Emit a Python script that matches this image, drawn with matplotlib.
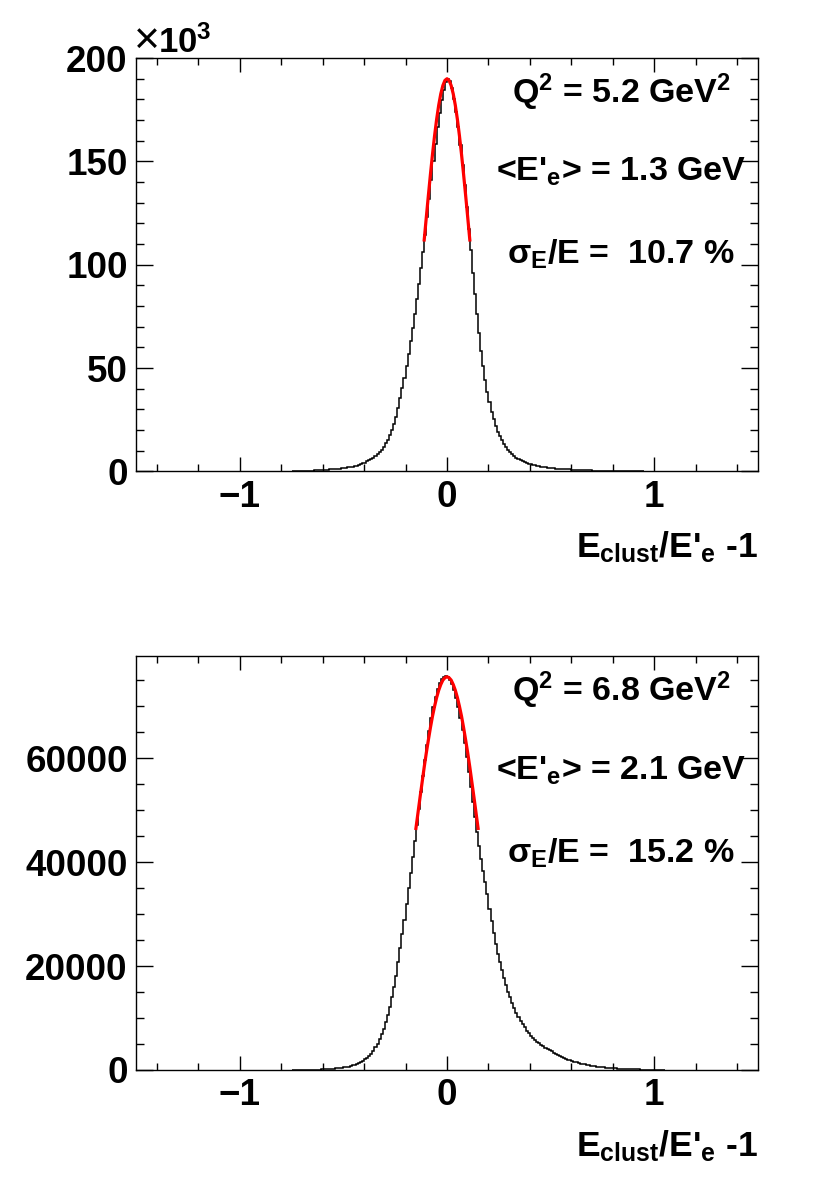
import numpy as np
import matplotlib
matplotlib.use('Agg')
import matplotlib.pyplot as plt
from matplotlib.ticker import MultipleLocator, FixedLocator

plt.rcParams['font.family'] = ['Liberation Sans', 'DejaVu Sans']
plt.rcParams['font.weight'] = 'bold'
plt.rcParams['mathtext.fontset'] = 'custom'
plt.rcParams['mathtext.rm'] = 'Liberation Sans:bold'
plt.rcParams['mathtext.it'] = 'Liberation Sans:bold'
plt.rcParams['mathtext.bf'] = 'Liberation Sans:bold'
plt.rcParams['mathtext.sf'] = 'Liberation Sans:bold'

# histogram: bins of 0.01, counts in thousands, split at x = 0
bin_width = 0.01

# top panel (Q2 = 5.2)
top_left_k = [
    0.02, 0.03, 0.05, 0.08, 0.12, 0.17, 0.22, 0.27, 0.33, 0.39,
    0.45, 0.52, 0.59, 0.66, 0.74, 0.81, 0.88, 0.94, 1.00, 1.06,
    1.13, 1.21, 1.30, 1.41, 1.53, 1.66, 1.81, 1.98, 2.17, 2.38,
    2.62, 2.89, 3.19, 3.53, 3.91, 4.35, 4.85, 5.40, 6.00, 6.70,
    7.45, 8.35, 9.40, 10.6, 12.0, 13.6, 15.4, 17.5, 19.9, 22.8,
    26.5, 30.8, 35.5, 40.2, 45.3, 50.8, 56.8, 63.0, 69.5, 76.3,
    83.5, 90.8, 98.6, 106.4, 114.6, 123.0, 132.0, 141.0, 150.0, 158.5,
    166.5, 173.5, 179.5, 184.5, 188.5,
]
top_right_k = [
    190.0, 189.0, 185.5, 180.0, 174.0, 166.5, 158.0, 148.5, 138.5, 128.0,
    117.5, 107.0, 96.0, 86.0, 76.0, 67.0, 58.5, 51.0, 44.5, 38.5,
    33.5, 29.0, 25.2, 22.0, 19.3, 17.0, 15.0, 13.2, 11.7, 10.4,
    9.3, 8.3, 7.4, 6.7, 6.0, 5.4, 4.9, 4.5, 4.1, 3.8,
    3.5, 3.2, 2.95, 2.7, 2.5, 2.3, 2.15, 2.0, 1.87, 1.75,
    1.64, 1.54, 1.45, 1.37, 1.29, 1.22, 1.15, 1.09, 1.03, 0.97,
    0.91, 0.86, 0.81, 0.76, 0.71, 0.67, 0.63, 0.59, 0.55, 0.51,
    0.48, 0.45, 0.42, 0.39, 0.36, 0.33, 0.31, 0.29, 0.27, 0.25,
    0.23, 0.21, 0.19, 0.17, 0.16, 0.15, 0.13, 0.12, 0.11, 0.10,
    0.09, 0.08, 0.07, 0.06, 0.05,
]
top_fit_x = [-0.11, -0.10, -0.09, -0.08, -0.07, -0.06, -0.05, -0.04, -0.03, -0.02, -0.01, 0.0,
             0.01, 0.02, 0.03, 0.04, 0.05, 0.06, 0.07, 0.08, 0.09, 0.10, 0.11]
top_fit_k = [112.0, 122.8, 133.4, 143.7, 153.4, 162.4, 170.4, 177.2, 182.7, 186.7, 189.2, 190.0,
             189.2, 186.7, 182.7, 177.2, 170.4, 162.4, 153.4, 143.7, 133.4, 122.8, 112.0]
top_labels = ['Q$^{2}$ = 5.2 GeV$^{2}$', "<E'$_{e}$> = 1.3 GeV", 'σ$_{E}$/E =  10.7 %']

# bottom panel (Q2 = 6.8)
bot_left_k = [
    0.00, 0.00, 0.01, 0.01, 0.01, 0.02, 0.02, 0.03, 0.03, 0.04,
    0.05, 0.06, 0.07, 0.08, 0.10, 0.11, 0.13, 0.15, 0.18, 0.21,
    0.25, 0.29, 0.33, 0.38, 0.44, 0.50, 0.57, 0.66, 0.76, 0.88,
    1.02, 1.18, 1.36, 1.57, 1.80, 2.05, 2.35, 2.70, 3.15, 3.70,
    4.35, 5.10, 5.95, 6.90, 7.95, 9.2, 10.6, 12.2, 14.0, 15.9,
    18.0, 20.8, 23.4, 26.1, 28.9, 31.9, 35.0, 38.0, 41.0, 44.0,
    47.1, 50.3, 53.5, 56.6, 59.6, 62.5, 65.2, 67.7, 69.9, 71.8,
    73.3, 74.5, 75.3, 75.7, 75.8,
]
bot_right_k = [
    75.6, 75.1, 74.3, 73.1, 71.6, 69.8, 67.7, 65.4, 62.9, 60.2,
    57.4, 54.5, 51.6, 48.7, 45.9, 43.2, 40.6, 38.4, 36.2, 33.9,
    31.0, 28.6, 26.4, 24.3, 22.4, 20.7, 19.2, 17.8, 16.3, 15.1,
    14.0, 12.9, 11.9, 11.0, 10.2, 9.5, 8.8, 8.2, 7.6, 7.1,
    6.6, 6.2, 5.8, 5.45, 5.2, 4.85, 4.55, 4.3, 4.05, 3.85,
    3.6, 3.35, 3.1, 2.9, 2.7, 2.5, 2.3, 2.15, 2.0, 1.85,
    1.7, 1.58, 1.46, 1.35, 1.25, 1.15, 1.06, 0.98, 0.9, 0.83,
    0.77, 0.71, 0.65, 0.6, 0.55, 0.5, 0.46, 0.42, 0.38, 0.35,
    0.32, 0.29, 0.26, 0.24, 0.22, 0.2, 0.18, 0.16, 0.14, 0.13,
    0.12, 0.11, 0.10, 0.09, 0.08, 0.07, 0.06, 0.05, 0.04, 0.03,
    0.02, 0.02, 0.01, 0.01, 0.0,
]
bot_fit_x = [-0.15, -0.14, -0.13, -0.12, -0.11, -0.10, -0.09, -0.08, -0.07, -0.06, -0.05,
             -0.04, -0.03, -0.02, -0.01, 0.0, 0.01, 0.02, 0.03, 0.04, 0.05, 0.06,
             0.07, 0.08, 0.09, 0.10, 0.11, 0.12, 0.13, 0.14, 0.15]
bot_fit_k = [46.5, 49.5, 52.5, 55.4, 58.3, 61.0, 63.5, 65.9, 68.1, 70.0, 71.7,
             73.1, 74.2, 75.05, 75.5, 75.7, 75.5, 75.05, 74.2, 73.1, 71.7, 70.0,
             68.1, 65.9, 63.5, 61.0, 58.3, 55.4, 52.5, 49.5, 46.5]
bot_labels = ['Q$^{2}$ = 6.8 GeV$^{2}$', "<E'$_{e}$> = 2.1 GeV", 'σ$_{E}$/E =  15.2 %']

x_ticks = [-1, 0, 1]
xlabel = "E$_{clust}$/E'$_{e}$ -1"


def draw(ax, left, right, scale, fit_x, fit_y, ymax, ymajor, yminor, labels):
    vals = np.array(left + right) * scale
    edges = bin_width * (np.arange(len(vals) + 1) - len(left))
    ax.stairs(vals, edges, color='k', lw=1.1)
    ax.plot(fit_x, np.array(fit_y) * scale, color='red', lw=2.3)

    ax.set_xlim(-1.5, 1.5)
    ax.set_ylim(0, ymax)
    ax.xaxis.set_major_locator(FixedLocator(x_ticks))
    ax.xaxis.set_minor_locator(MultipleLocator(0.2))
    ax.yaxis.set_major_locator(MultipleLocator(ymajor))
    ax.yaxis.set_minor_locator(MultipleLocator(yminor))
    ax.tick_params(which='both', direction='in', top=True, right=True,
                   width=1, labelsize=26.5, pad=6)
    ax.tick_params(axis='x', which='major', length=10)
    ax.tick_params(axis='x', which='minor', length=5)
    ax.tick_params(axis='y', which='major', length=12)
    ax.tick_params(axis='y', which='minor', length=6)
    for s in ax.spines.values():
        s.set_linewidth(1.0)

    for txt, yy in zip(labels, [0.891, 0.7025, 0.502]):
        ax.text(0.78, yy, txt, transform=ax.transAxes, ha='center',
                va='baseline', fontsize=24.5)
    ax.annotate(xlabel, xy=(1, 0), xycoords='axes fraction', xytext=(0, -62),
                textcoords='offset points', ha='right', va='baseline', fontsize=25.5)


fig = plt.figure(figsize=(8.14, 11.97), dpi=100)
ax1 = fig.add_axes([0.1671, 0.6061, 0.7641, 0.3454])
ax2 = fig.add_axes([0.1671, 0.1061, 0.7641, 0.3459])

draw(ax1, top_left_k, top_right_k, 1, top_fit_x, top_fit_k, 200, 50, 10, top_labels)
draw(ax2, bot_left_k, bot_right_k, 1000, bot_fit_x, bot_fit_k, 79700, 20000, 5000, bot_labels)

# exponent marker of the top y axis
ax1.annotate('×', xy=(0, 1), xycoords='axes fraction', xytext=(-1.5, 3.6),
             textcoords='offset points', ha='left', va='baseline',
             fontsize=32, fontweight='normal')
ax1.annotate('10$^{3}$', xy=(0, 1), xycoords='axes fraction', xytext=(16, 3.6),
             textcoords='offset points', ha='left', va='baseline', fontsize=25)

fig.savefig('out.png', dpi=100)
